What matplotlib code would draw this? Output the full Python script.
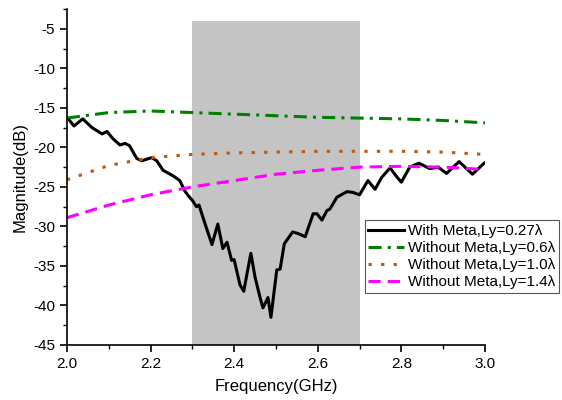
import numpy as np
import matplotlib.pyplot as plt
from matplotlib.ticker import MultipleLocator

plt.rcParams['font.family'] = ['Liberation Sans', 'DejaVu Sans']
plt.rcParams['axes.unicode_minus'] = False

# With Meta (measured, wiggly)
f_meta = [2.005, 2.017, 2.038, 2.06, 2.084, 2.096, 2.11, 2.127, 2.139, 2.15, 2.167,
          2.179, 2.203, 2.215, 2.23, 2.254, 2.27, 2.282, 2.29, 2.30, 2.31, 2.316,
          2.33, 2.347, 2.361, 2.373, 2.383, 2.394, 2.40, 2.414, 2.423, 2.44, 2.45,
          2.462, 2.469, 2.481, 2.488, 2.502, 2.51, 2.52, 2.54, 2.553, 2.57, 2.589,
          2.598, 2.61, 2.622, 2.629, 2.646, 2.67, 2.684, 2.70, 2.72, 2.737, 2.753,
          2.773, 2.79, 2.80, 2.82, 2.842, 2.868, 2.888, 2.908, 2.938, 2.97, 2.998]
s_meta = [-16.5, -17.3, -16.4, -17.5, -18.3, -18.0, -18.9, -19.7, -19.5, -19.8, -21.4,
          -21.7, -21.3, -21.7, -22.9, -23.6, -24.2, -25.5, -26.1, -26.7, -27.5, -27.3,
          -29.6, -32.3, -29.7, -32.8, -32.0, -34.3, -34.2, -37.4, -38.2, -33.4, -36.4,
          -39.0, -40.3, -39.0, -41.5, -35.5, -35.4, -32.2, -30.7, -30.9, -31.3, -28.4,
          -28.4, -29.2, -28.0, -27.8, -26.3, -25.6, -25.7, -26.0, -24.2, -25.3, -23.8,
          -22.6, -23.8, -24.4, -22.5, -22.0, -22.7, -22.5, -23.3, -21.8, -23.4, -22.0]

# Without Meta (smooth simulated)
f_sim = [2.0, 2.1, 2.2, 2.3, 2.4, 2.5, 2.6, 2.7, 2.8, 2.9, 3.0]
s_06 = [-16.3, -15.6, -15.4, -15.6, -15.8, -16.0, -16.2, -16.3, -16.4, -16.6, -16.9]
s_10 = [-24.1, -22.3, -21.3, -20.9, -20.7, -20.6, -20.5, -20.5, -20.5, -20.6, -20.9]
s_14 = [-28.9, -27.3, -26.0, -25.0, -24.2, -23.4, -22.9, -22.5, -22.4, -22.5, -22.8]

fig = plt.figure(figsize=(5.62, 4), dpi=100)
ax = fig.add_axes([0.119, 0.1375, 0.744, 0.84])

# shaded band 2.3-2.7 GHz
ax.fill_between([2.3, 2.7], -45, -4, color='#c4c4c4', lw=0, zorder=0)

ax.plot(f_meta, s_meta, color='black', lw=2.2, label='With Meta,Ly=0.27λ')
ax.plot(f_sim, s_06, color='#008000', lw=2.2, dashes=(4.3, 2, 1, 2),
        label='Without Meta,Ly=0.6λ')
ax.plot(f_sim, s_10, color='#c05a10', lw=2.2, dashes=(1.1, 3.0),
        label='Without Meta,Ly=1.0λ')
ax.plot(f_sim, s_14, color='#ff00ff', lw=2.2, dashes=(4, 2.3),
        label='Without Meta,Ly=1.4λ')

ax.set_xlim(2.0, 3.0)
ax.set_ylim(-45, -2.5)
ax.xaxis.set_minor_locator(MultipleLocator(0.1))
ax.yaxis.set_minor_locator(MultipleLocator(2.5))
ax.set_xticks([2.0, 2.2, 2.4, 2.6, 2.8, 3.0])
ax.set_xticklabels(['2.0', '2.2', '2.4', '2.6', '2.8', '3.0'])
ax.set_yticks([-45, -40, -35, -30, -25, -20, -15, -10, -5])
ax.tick_params(which='major', direction='out', length=5, width=1.2, labelsize=11)
ax.tick_params(which='minor', direction='out', length=3, width=1)

for s in ['top', 'right']:
    ax.spines[s].set_visible(False)
for s in ['left', 'bottom']:
    ax.spines[s].set_linewidth(1.2)

ax.set_xlabel('Frequency(GHz)', fontsize=12, labelpad=6)
ax.set_ylabel('Magnitude(dB)', fontsize=12, labelpad=4)

leg = ax.legend(loc='lower left', bbox_to_anchor=(0.712, 0.155), fontsize=11,
                fancybox=False, framealpha=1, edgecolor='#555555',
                handlelength=2.3, borderpad=0.25, labelspacing=0.2,
                handletextpad=0.3, borderaxespad=0)
leg.get_frame().set_linewidth(0.8)

fig.savefig('out.png', dpi=100)
